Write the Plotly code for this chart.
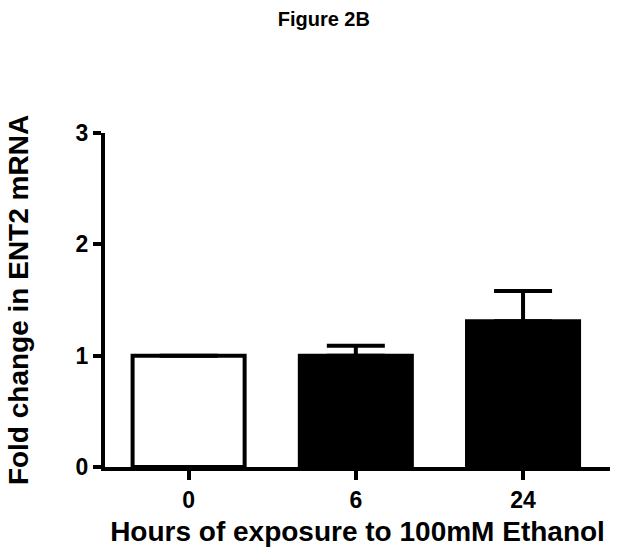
import plotly.graph_objects as go

categories = ["0", "6", "24"]
fold_change = [1.0, 1.0, 1.31]
error_up = [0.0, 0.09, 0.27]
bar_colors = ["white", "black", "black"]
y_ticks = [0, 1, 2, 3]

FONT = "Liberation Sans, Arial, Helvetica, sans-serif"

fig = go.Figure()
fig.add_trace(go.Bar(
    x=categories,
    y=fold_change,
    width=0.67,
    marker=dict(color=bar_colors, line=dict(color="black", width=4)),
    error_y=dict(type="data", symmetric=False, array=error_up,
                 arrayminus=[0, 0, 0], color="black", thickness=4, width=29,
                 visible=True),
    showlegend=False,
))

fig.update_layout(
    width=618, height=552,
    margin=dict(l=105, r=8, t=133, b=85, autoexpand=False),
    paper_bgcolor="white", plot_bgcolor="white",
    title=dict(text="Figure 2B", x=0.524, xanchor="center", y=1 - 19 / 552,
               yanchor="middle",
               font=dict(family=FONT, size=20, color="black", weight="bold")),
    bargap=0.33,
)
fig.update_xaxes(
    type="category", range=[-0.5, 2.52],
    showline=True, linecolor="black", linewidth=4,
    ticks="outside", ticklen=9, tickwidth=4, tickcolor="black",
    tickfont=dict(family=FONT, size=23, color="black", weight="bold"),
    showgrid=False, zeroline=False,
    title=dict(text="Hours of exposure to 100mM Ethanol", standoff=11,
               font=dict(family=FONT, size=28, color="black", weight="bold")),
    automargin=False,
)
fig.update_yaxes(
    range=[0, 3], tickvals=y_ticks, ticktext=[str(v) for v in y_ticks],
    showline=True, linecolor="black", linewidth=4,
    ticks="outside", ticklen=8, tickwidth=4, tickcolor="black",
    tickfont=dict(family=FONT, size=23, color="black", weight="bold"),
    showgrid=False, zeroline=False,
    title=dict(text="Fold change in ENT2 mRNA", standoff=40,
               font=dict(family=FONT, size=28, color="black", weight="bold")),
    automargin=False,
)

fig.write_html("out.html", config={"displayModeBar": False})

# remove the browser's default page margin so the figure sits at (0, 0)
with open("out.html", "r", encoding="utf-8") as f:
    html = f.read()
html = html.replace("<head>", "<head><style>html,body{margin:0;padding:0;overflow:hidden;}</style>", 1)
with open("out.html", "w", encoding="utf-8") as f:
    f.write(html)
